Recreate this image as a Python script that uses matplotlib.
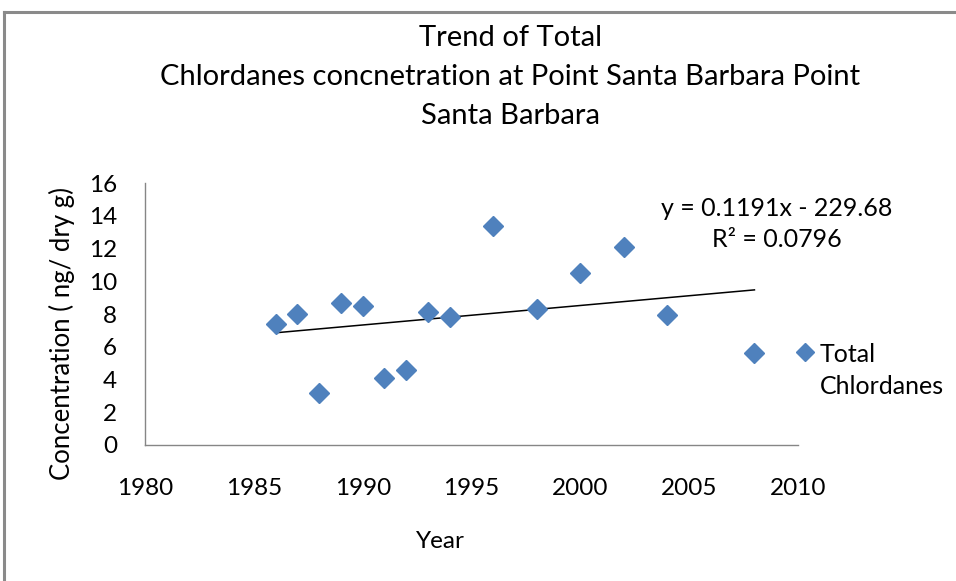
import numpy as np
import matplotlib
matplotlib.use("Agg")
import matplotlib.pyplot as plt
from matplotlib.lines import Line2D
from matplotlib.offsetbox import HPacker

plt.rcParams['font.family'] = ['Lato', 'DejaVu Sans']

# data
years = [1986, 1987, 1988, 1989, 1990, 1991, 1992, 1993, 1994, 1996, 1998, 2000, 2002, 2004, 2008]
chlordanes = [7.4, 8.0, 3.2, 8.7, 8.5, 4.1, 4.6, 8.1, 7.8, 13.4, 8.3, 10.5, 12.1, 7.95, 5.6]
slope = 0.1191
intercept = -229.68
r_squared = 0.0796
x_ticks = [1980, 1985, 1990, 1995, 2000, 2005, 2010]
y_ticks = [0, 2, 4, 6, 8, 10, 12, 14, 16]

blue = "#4F81BD"
grey = "#868686"

fig = plt.figure(figsize=(9.56, 5.81), dpi=100)
ax = fig.add_axes([0.1517, 0.2341, 0.683, 0.4509])

ax.plot(years, chlordanes, linestyle="none", marker="D", markersize=10.5,
        color=blue, label="Total\nChlordanes", zorder=3)

trend_x = np.array([min(years), max(years)])
ax.plot(trend_x, slope * trend_x + intercept, color="black", linewidth=1.1, zorder=2)

ax.set_xlim(1980, 2010)
ax.set_ylim(0, 16)
ax.set_xticks(x_ticks)
ax.set_yticks(y_ticks)
ax.tick_params(axis="x", length=0, pad=24, labelsize=17.5)
ax.tick_params(axis="y", length=0, pad=20, labelsize=17.5)
for s in ["top", "right"]:
    ax.spines[s].set_visible(False)
for s in ["left", "bottom"]:
    ax.spines[s].set_color(grey)
    ax.spines[s].set_linewidth(1.0)

fig.text(0.534, 1 - 77 / 581,
         "Trend of Total\nChlordanes concnetration at Point Santa Barbara Point\nSanta Barbara",
         ha="center", va="center", fontsize=21, linespacing=1.6)

fig.text(440 / 956, 1 - 541 / 581, "Year", ha="center", va="center", fontsize=17.5)
fig.text(62 / 956, 1 - 334 / 581, "Concentration ( ng/ dry g)", rotation=90,
         ha="center", va="center", fontsize=18.5)

fig.text(777 / 956, 1 - 224 / 581,
         f"y = {slope}x - {abs(intercept)}\nR\u00b2 = {r_squared}",
         ha="center", va="center", fontsize=18, linespacing=1.45)

leg = ax.legend(loc="upper left", bbox_to_anchor=(797 / 956, 1 - 343 / 581),
                bbox_transform=fig.transFigure, frameon=False, fontsize=18,
                handlelength=0.6, handletextpad=0.3, markerscale=0.9,
                borderaxespad=0, borderpad=0)
for t in leg.get_texts():
    t.set_linespacing(1.5)
for p in leg.findobj(HPacker):
    p.align = "top"

# outer frame (left and top edges only)
fig.add_artist(Line2D([4 / 956, 4 / 956], [0, 1 - 12 / 581], transform=fig.transFigure,
                      color="#8a8a8a", linewidth=2.2))
fig.add_artist(Line2D([4 / 956, 1], [1 - 12 / 581, 1 - 12 / 581], transform=fig.transFigure,
                      color="#8a8a8a", linewidth=2.2))

fig.savefig("out.png", dpi=100)
